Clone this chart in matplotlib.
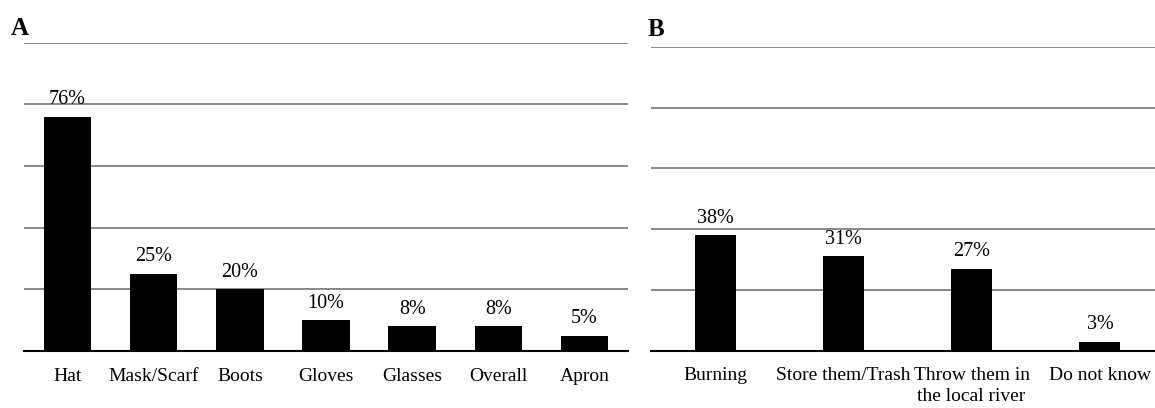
import matplotlib
matplotlib.use("Agg")
import matplotlib.pyplot as plt

plt.rcParams['font.family'] = ['Liberation Serif', 'DejaVu Serif']

# Panel A data
items_a = ["Hat", "Mask/Scarf", "Boots", "Gloves", "Glasses", "Overall", "Apron"]
values_a = [76, 25, 20, 10, 8, 8, 5]

# Panel B data
items_b = ["Burning", "Store them/Trash", "Throw them in\nthe local river", "Do not know"]
values_b = [38, 31, 27, 3]

grid_levels = [20, 40, 60, 80, 100]

fig = plt.figure(figsize=(11.55, 4.08), dpi=100)
ax_a = fig.add_axes([0.0212, 0.1397, 0.5221, 0.7556])
ax_b = fig.add_axes([0.5636, 0.1404, 0.4442, 0.7451])


def draw_panel(ax, items, values, bar_width):
    x = list(range(len(items)))
    ax.bar(x, values, width=bar_width, color='black', zorder=3)
    ax.set_xlim(-0.5, len(items) - 0.5)
    ax.set_ylim(0, 100)
    for lvl in grid_levels:
        ax.axhline(lvl, color='#808080', linewidth=1.3, zorder=1)
    for xi, v in zip(x, values):
        ax.annotate(f"{v}%", (xi, v), xytext=(0, 9), textcoords='offset points',
                    ha='center', va='baseline', fontsize=14.5)
    ax.set_xticks(x)
    ax.set_xticklabels(items, fontsize=14, linespacing=1.3)
    ax.tick_params(axis='x', length=0, pad=12)
    ax.set_yticks([])
    for side in ['top', 'left', 'right']:
        ax.spines[side].set_visible(False)
    ax.spines['bottom'].set_linewidth(1.5)
    ax.spines['bottom'].set_color('black')
    ax.spines['bottom'].set_zorder(4)
    ax.set_facecolor('none')
    return ax


draw_panel(ax_a, items_a, values_a, 0.55)
draw_panel(ax_b, items_b, values_b, 0.32)

fig.text(11 / 1155, 1 - 35 / 408, "A", fontsize=18, fontweight='bold', ha='left', va='baseline')
fig.text(648 / 1155, 1 - 36 / 408, "B", fontsize=18, fontweight='bold', ha='left', va='baseline')

fig.savefig("out.png", dpi=100)
